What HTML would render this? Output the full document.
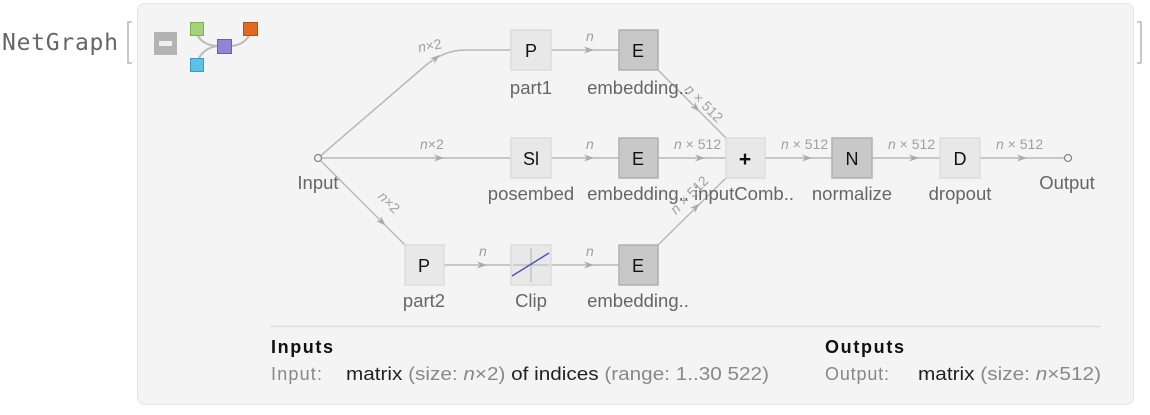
<!DOCTYPE html>
<html><head><style>
body{margin:0;width:1150px;height:410px;background:#fff;overflow:hidden;font-family:"Liberation Sans",sans-serif}
</style></head><body>
<svg width="1150" height="410" xmlns="http://www.w3.org/2000/svg" font-family="Liberation Sans, sans-serif">
<text x="2" y="50" font-family="DejaVu Sans Mono, Liberation Mono, monospace" font-size="23" fill="#666" textLength="116">NetGraph</text>
<path d="M132 22 H128 V63 H132" fill="none" stroke="#aaa" stroke-width="1.3"/>
<path d="M1137 22 H1141 V63 H1137" fill="none" stroke="#aaa" stroke-width="1.3"/>
<rect x="137.5" y="3.5" width="996" height="401" rx="7" fill="#f4f4f4" stroke="#e4e4e4"/>
<rect x="154" y="32" width="23" height="23" fill="#b3b3b3"/>
<rect x="159" y="41" width="13" height="5" fill="#eee"/>
<path d="M197 33 C200 44,212 46,220 46 M197 64 C200 50,212 46,220 46 M230 46 C240 46,248 40,250 33" fill="none" stroke="#bbb" stroke-width="2"/>
<rect x="190.5" y="22.5" width="13" height="13" fill="#a4d17a" stroke="#7cb04a"/>
<rect x="217.5" y="39.5" width="14" height="14" fill="#9484d6" stroke="#6c5cb8"/>
<rect x="243.5" y="22.5" width="14" height="13" fill="#e06a22" stroke="#b84e10"/>
<rect x="190.5" y="58.5" width="13" height="13" fill="#5fc0e6" stroke="#3a9cc6"/>
<defs><marker id="a" viewBox="0 0 10 10" refX="5" refY="5" markerWidth="10" markerHeight="10" orient="auto"><path d="M0 1.5 L10 5 L0 8.5 L3 5Z" fill="#aaa"/></marker></defs>
<g stroke="#b8b8b8" stroke-width="1.5" fill="none">
<path d="M318 158 L425 66 Q444 50 465 50 L511 50"/>
<path d="M318 158 L511 158"/>
<path d="M318 158 L405 245"/>
<path d="M551 50 L619 50 M551 158 L619 158 M444 265 L511 265 M551 265 L619 265"/>
<path d="M658 70 L726 138 M658 158 L726 158 M658 245 L726 178"/>
<path d="M765 158 L832 158 M872 158 L940 158 M980 158 L1065 158"/>
</g>
<g stroke="none" fill="none">
<path d="M420 71 l16 -13" marker-end="url(#a)"/>
<path d="M425 158 l14 0" marker-end="url(#a)"/>
<path d="M372 212 l10 10" marker-end="url(#a)"/>
<path d="M575 50 l14 0" marker-end="url(#a)"/><path d="M575 158 l14 0" marker-end="url(#a)"/>
<path d="M468 265 l14 0" marker-end="url(#a)"/><path d="M575 265 l14 0" marker-end="url(#a)"/>
<path d="M686 98 l10 10" marker-end="url(#a)"/><path d="M686 158 l14 0" marker-end="url(#a)"/>
<path d="M686 217 l10 -10" marker-end="url(#a)"/>
<path d="M793 158 l14 0" marker-end="url(#a)"/><path d="M900 158 l14 0" marker-end="url(#a)"/><path d="M1008 158 l14 0" marker-end="url(#a)"/>
</g>
<circle cx="318" cy="158" r="3.5" fill="#f4f4f4" stroke="#888" stroke-width="1.3"/>
<circle cx="1068" cy="158" r="3.5" fill="#f4f4f4" stroke="#888" stroke-width="1.3"/>
<g stroke-width="1.5">
<rect x="511" y="30" width="40" height="40" fill="#e8e8e8" stroke="#dcdcdc"/>
<rect x="619" y="30" width="39" height="40" fill="#c8c8c8" stroke="#b0b0b0"/>
<rect x="511" y="138" width="40" height="40" fill="#e8e8e8" stroke="#dcdcdc"/>
<rect x="619" y="138" width="39" height="40" fill="#c8c8c8" stroke="#b0b0b0"/>
<rect x="726" y="138" width="39" height="40" fill="#e8e8e8" stroke="#dcdcdc"/>
<rect x="832" y="138" width="40" height="40" fill="#c8c8c8" stroke="#b0b0b0"/>
<rect x="940" y="138" width="40" height="40" fill="#e8e8e8" stroke="#dcdcdc"/>
<rect x="405" y="245" width="39" height="40" fill="#e8e8e8" stroke="#dcdcdc"/>
<rect x="511" y="245" width="40" height="40" fill="#e8e8e8" stroke="#dcdcdc"/>
<rect x="619" y="245" width="39" height="40" fill="#c8c8c8" stroke="#b0b0b0"/>
</g>
<path d="M531 248 V282 M513 265 H549" stroke="#bbb" stroke-width="1.2"/>
<path d="M512 276 L549 253" stroke="#5a52b8" stroke-width="1.5"/>
<g font-size="18" fill="#111" text-anchor="middle">
<text x="531" y="57">P</text><text x="638" y="57">E</text>
<text x="531" y="165">Sl</text><text x="638" y="165">E</text>
<text x="745" y="166" font-size="21" font-weight="bold">+</text>
<text x="852" y="165">N</text><text x="960" y="165">D</text>
<text x="424" y="272">P</text><text x="638" y="272">E</text>
</g>
<g font-size="18.5" fill="#666" text-anchor="middle">
<text x="531" y="94">part1</text><text x="638" y="94">embedding..</text>
<text x="318" y="189">Input</text>
<text x="531" y="200">posembed</text><text x="638" y="200">embedding..</text>
<text x="744" y="200" textLength="100">inputComb..</text><text x="852" y="200">normalize</text><text x="960" y="200">dropout</text>
<text x="1067" y="189">Output</text>
<text x="424" y="307">part2</text><text x="531" y="307">Clip</text><text x="638" y="307">embedding..</text>
</g>
<g font-size="14" fill="#a0a0a0">
<text x="418" y="50" transform="rotate(-10 432 46)"><tspan font-style="italic">n</tspan>×2</text>
<text x="420" y="149"><tspan font-style="italic">n</tspan>×2</text>
<text x="370" y="205" transform="rotate(45 383 210)"><tspan font-style="italic">n</tspan>×2</text>
<text x="586" y="41" font-style="italic">n</text><text x="586" y="149" font-style="italic">n</text>
<text x="479" y="256" font-style="italic">n</text><text x="586" y="256" font-style="italic">n</text>
<text x="684" y="90" transform="rotate(45 684 90)"><tspan font-style="italic">n</tspan> × 512</text>
<text x="674" y="149"><tspan font-style="italic">n</tspan> × 512</text>
<text x="676" y="215" transform="rotate(-45 676 215)"><tspan font-style="italic">n</tspan> × 512</text>
<text x="781" y="149"><tspan font-style="italic">n</tspan> × 512</text>
<text x="888" y="149"><tspan font-style="italic">n</tspan> × 512</text>
<text x="996" y="149"><tspan font-style="italic">n</tspan> × 512</text>
</g>
<line x1="270" y1="326.5" x2="1101" y2="326.5" stroke="#ddd" stroke-width="1.5"/>
<g font-size="18">
<text x="271" y="353" font-weight="bold" fill="#111" textLength="62">Inputs</text>
<text x="825" y="353" font-weight="bold" fill="#111" textLength="79">Outputs</text>
<text x="271" y="380" fill="#888" textLength="51">Input:</text>
<text x="346" y="380" fill="#222" textLength="423" lengthAdjust="spacingAndGlyphs">matrix<tspan fill="#888"> (size: <tspan font-style="italic">n</tspan>×2)</tspan> of indices<tspan fill="#888"> (range: 1..30 522)</tspan></text>
<text x="825" y="380" fill="#888" textLength="64">Output:</text>
<text x="918" y="380" fill="#222" textLength="183" lengthAdjust="spacingAndGlyphs">matrix<tspan fill="#888"> (size: <tspan font-style="italic">n</tspan>×512)</tspan></text>
</g>
</svg>
</body></html>
